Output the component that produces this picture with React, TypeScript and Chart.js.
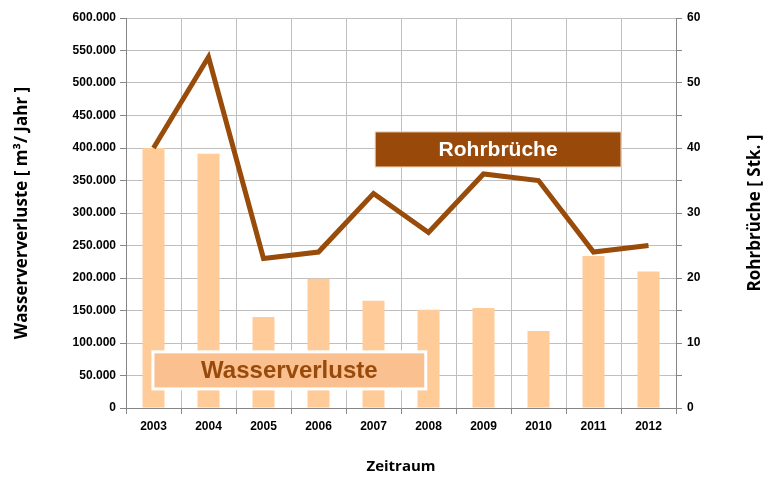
import React, { useEffect, useRef } from "react";
import { Chart, registerables } from "chart.js";

Chart.register(...registerables);

const years = ["2003", "2004", "2005", "2006", "2007", "2008", "2009", "2010", "2011", "2012"];
const wasserverluste = [400000, 391000, 140000, 199000, 165000, 151000, 154000, 118500, 234000, 210000];
const rohrbrueche = [40, 54, 23, 24, 33, 27, 36, 35, 24, 25];

const BAR_COLOR = "#FFCC99";
const LINE_COLOR = "#994C0A";
const GRID = "#BFBFBF";
const AXIS = "#868686";
const TICK_FONT = { family: "'Liberation Sans', Arial, sans-serif", size: 12, weight: "bold" as const };
const TITLE_FAMILY = "'Open Sans', 'DejaVu Sans', sans-serif";
const TITLE_FONT = { family: TITLE_FAMILY, size: 15, weight: "bold" as const };
const YTITLE_FONT = { family: TITLE_FAMILY, size: 17, weight: "bold" as const };

const fmt = (v: number) => String(Math.round(v)).replace(/\B(?=(\d{3})+(?!\d))/g, ".");

const boxesPlugin = {
  id: "boxes",
  afterDatasetsDraw(chart: any) {
    const { ctx, chartArea: a } = chart;
    const w = a.right - a.left;
    const h = a.bottom - a.top;
    const box = (fx0: number, fy0: number, fx1: number, fy1: number, fill: string, border: string, bw: number, text: string, color: string, size: number) => {
      const x0 = a.left + fx0 * w, y0 = a.top + fy0 * h;
      const x1 = a.left + fx1 * w, y1 = a.top + fy1 * h;
      ctx.save();
      ctx.fillStyle = fill;
      ctx.fillRect(x0, y0, x1 - x0, y1 - y0);
      ctx.strokeStyle = border;
      ctx.lineWidth = bw;
      ctx.strokeRect(x0, y0, x1 - x0, y1 - y0);
      ctx.fillStyle = color;
      ctx.font = `bold ${size}px 'Liberation Sans', Arial, sans-serif`;
      ctx.textAlign = "center";
      ctx.textBaseline = "middle";
      ctx.fillText(text, (x0 + x1) / 2, (y0 + y1) / 2 + 1);
      ctx.restore();
    };
    box(0.453, 0.292, 0.9, 0.382, "#994A0A", "#F2D6BC", 1, "Rohrbrüche", "#FFFFFF", 21);
    box(0.049, 0.856, 0.545, 0.951, "#FAC090", "#FFFFFF", 3, "Wasserverluste", "#994A0A", 24);
  },
  afterDraw(chart: any) {
    const { ctx, chartArea: a } = chart;
    ctx.save();
    ctx.translate(chart.width - 11, (a.top + a.bottom) / 2);
    ctx.rotate(-Math.PI / 2);
    ctx.fillStyle = "#000";
    ctx.font = `bold ${YTITLE_FONT.size}px ${TITLE_FAMILY}`;
    ctx.textAlign = "center";
    ctx.textBaseline = "middle";
    ctx.fillText("Rohrbrüche [ Stk. ]", 0, 0);
    ctx.restore();
  },
};

export default function App() {
  const ref = useRef<HTMLCanvasElement>(null);
  useEffect(() => {
    const chart = new Chart(ref.current!, {
      type: "bar",
      data: {
        labels: years,
        datasets: [
          {
            type: "bar",
            label: "Wasserverluste",
            data: wasserverluste,
            backgroundColor: BAR_COLOR,
            yAxisID: "y",
            barPercentage: 0.4,
            categoryPercentage: 1,
            order: 2,
          },
          {
            type: "line",
            label: "Rohrbrüche",
            data: rohrbrueche,
            borderColor: LINE_COLOR,
            borderWidth: 5,
            pointRadius: 0,
            tension: 0,
            yAxisID: "y1",
            order: 1,
          } as any,
        ],
      },
      options: {
        animation: false,
        responsive: false,
        maintainAspectRatio: false,
        layout: { padding: { top: 18, left: 0, right: 0, bottom: 0 } },
        plugins: { legend: { display: false }, tooltip: { enabled: false } },
        scales: {
          x: {
            offset: true,
            grid: { color: GRID, tickColor: AXIS, tickLength: 6, offset: true },
            border: { color: AXIS },
            ticks: { color: "#000", font: TICK_FONT, padding: 5, maxRotation: 0 },
            title: { display: true, text: "Zeitraum", color: "#000", font: TITLE_FONT, padding: 2 },
            afterFit: (s: any) => { s.height = 70; },
          },
          y: {
            position: "left",
            min: 0,
            max: 600000,
            ticks: { stepSize: 50000, color: "#000", font: TICK_FONT, padding: 4, callback: (v: any) => fmt(Number(v)) },
            grid: { color: GRID, tickColor: AXIS, tickLength: 6 },
            border: { color: AXIS },
            title: { display: true, text: "Wasserververluste [ m³/ Jahr ]", color: "#000", font: YTITLE_FONT, padding: 12 },
            afterFit: (s: any) => { s.width = 126; },
          },
          y1: {
            position: "right",
            min: 0,
            max: 60,
            ticks: { stepSize: 5, color: "#000", font: TICK_FONT, padding: 5, callback: (v: any) => (Number(v) % 10 === 0 ? String(v) : "") },
            grid: { drawOnChartArea: false, tickColor: AXIS, tickLength: 6 },
            border: { color: AXIS },
            title: { display: false },
            afterFit: (s: any) => { s.width = 90; },
          },
        },
      } as any,
      plugins: [boxesPlugin],
    });
    return () => chart.destroy();
  }, []);
  return (
    <div style={{ position: "absolute", left: 0, top: 0, width: 766, height: 478 }}>
      <canvas ref={ref} width={766} height={478} />
    </div>
  );
}
